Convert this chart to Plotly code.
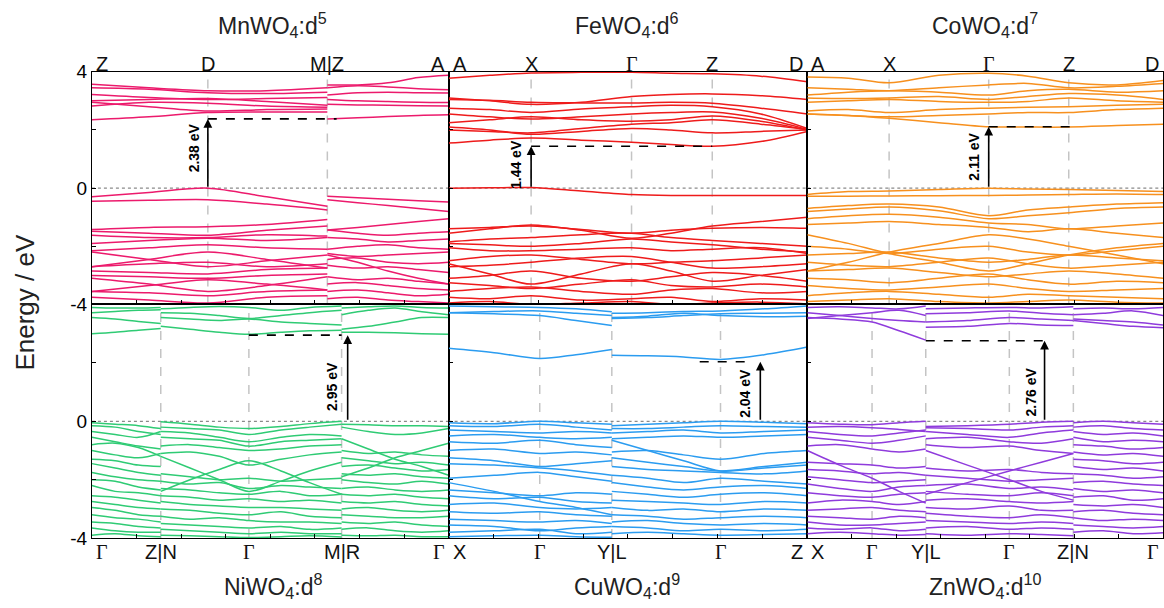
import plotly.graph_objects as go

# ---------------- data (eV) ----------------
# MnWO4 : Z-D-M | Z-A
MN_S1_X = [0, 0.16, 0.325, 0.49, 0.66]
MN_S1_CB = [
    [3.57, 3.45, 3.35, 3.35, 3.45], [3.45, 3.40, 3.28, 3.25, 3.30], [3.22, 3.12, 3.05, 3.08, 3.12],
    [3.00, 3.05, 3.08, 2.98, 2.85], [2.82, 2.95, 2.92, 2.82, 2.78], [2.95, 2.80, 2.65, 2.70, 2.72],
    [2.35, 2.45, 2.60, 2.62, 2.62]]
MN_S1_VB = [
    [-0.30, -0.15, 0.00, -0.30, -0.62], [-0.45, -0.42, -0.40, -0.55, -0.75], [-1.42, -1.35, -1.33, -1.25, -1.08],
    [-1.48, -1.55, -1.62, -1.45, -1.30], [-1.62, -1.70, -1.70, -1.60, -1.65], [-1.90, -1.80, -1.72, -1.80, -1.70],
    [-2.15, -2.05, -1.95, -2.05, -2.10], [-2.70, -2.45, -2.20, -2.45, -2.75], [-2.20, -2.45, -2.70, -2.50, -2.30],
    [-2.70, -2.60, -2.55, -2.70, -2.60], [-2.85, -2.90, -2.95, -2.80, -2.75], [-3.00, -3.05, -3.10, -3.00, -2.95],
    [-3.10, -3.30, -3.55, -3.35, -3.05], [-3.55, -3.35, -3.15, -3.30, -3.50], [-3.55, -3.60, -3.70, -3.55, -3.50],
    [-3.75, -3.85, -3.95, -3.75, -3.70]]
MN_S2_X = [0.66, 0.745, 0.83, 0.915, 1.0]
MN_S2_CB = [
    [3.55, 3.55, 3.62, 3.80, 3.88], [3.45, 3.52, 3.48, 3.42, 3.38], [3.20, 3.28, 3.30, 3.28, 3.27],
    [3.05, 3.00, 2.98, 2.95, 2.94], [2.88, 2.86, 2.85, 2.83, 2.82], [2.38, 2.42, 2.46, 2.50, 2.52]]
MN_S2_VB = [
    [-0.28, -0.33, -0.38, -0.43, -0.48], [-0.40, -0.50, -0.60, -0.70, -0.80], [-1.44, -1.35, -1.25, -1.15, -1.05],
    [-1.44, -1.55, -1.62, -1.55, -1.50], [-1.70, -1.75, -1.85, -1.80, -1.75], [-2.10, -2.00, -1.95, -2.05, -2.10],
    [-2.25, -2.35, -2.30, -2.25, -2.20], [-2.45, -2.40, -2.55, -2.60, -2.55], [-2.65, -2.75, -2.70, -2.80, -2.90],
    [-2.30, -2.55, -2.85, -3.10, -3.30], [-3.05, -3.15, -3.10, -3.20, -3.30], [-3.30, -3.25, -3.35, -3.45, -3.50],
    [-3.55, -3.50, -3.60, -3.70, -3.65], [-3.80, -3.75, -3.85, -3.90, -3.95]]

# FeWO4 : A-X-G-Z-D
FE_S1_X = [0, 0.115, 0.23, 0.37, 0.51, 0.62, 0.735, 0.87, 1.0]
FE_S1_CB = [
    [3.78, 3.88, 3.96, 3.98, 3.98, 3.95, 3.93, 3.85, 3.66],
    [3.10, 3.00, 2.88, 2.95, 3.15, 3.22, 3.24, 3.18, 3.05],
    [3.05, 3.02, 2.95, 2.93, 2.93, 2.95, 2.92, 2.75, 2.55],
    [2.75, 2.70, 2.60, 2.72, 2.80, 2.85, 2.80, 2.55, 2.05],
    [2.55, 2.45, 2.38, 2.45, 2.55, 2.60, 2.62, 2.40, 2.02],
    [2.25, 2.35, 2.45, 2.35, 2.30, 2.35, 2.48, 2.30, 2.00],
    [2.00, 1.95, 1.90, 2.05, 2.20, 2.25, 2.35, 2.20, 2.02],
    [2.10, 2.00, 1.85, 1.95, 2.05, 2.00, 1.90, 1.95, 2.00],
    [1.55, 1.65, 1.72, 1.65, 1.58, 1.50, 1.44, 1.60, 1.95]]
FE_S1_VB = [
    [0.00, 0.01, 0.02, -0.10, -0.22, -0.25, -0.25, -0.25, -0.25],
    [-1.55, -1.40, -1.27, -1.45, -1.72, -1.55, -1.30, -1.15, -1.00],
    [-1.40, -1.35, -1.30, -1.42, -1.55, -1.45, -1.38, -1.35, -1.38],
    [-1.85, -1.75, -1.70, -1.60, -1.55, -1.70, -1.80, -1.90, -2.00],
    [-1.90, -1.95, -2.00, -1.90, -1.75, -1.85, -1.95, -2.10, -2.20],
    [-2.05, -2.15, -2.15, -2.10, -2.05, -2.15, -2.10, -2.05, -2.25],
    [-2.50, -2.35, -2.30, -2.45, -2.60, -2.55, -2.50, -2.40, -2.30],
    [-2.70, -2.65, -2.55, -2.40, -2.35, -2.55, -2.75, -2.70, -2.60],
    [-2.60, -2.95, -3.30, -2.95, -2.60, -2.85, -3.20, -3.00, -2.80],
    [-3.10, -3.00, -2.85, -3.10, -3.20, -3.05, -2.90, -3.00, -3.20],
    [-3.25, -3.35, -3.45, -3.30, -3.15, -3.35, -3.40, -3.30, -3.40],
    [-3.55, -3.45, -3.40, -3.55, -3.65, -3.50, -3.45, -3.60, -3.55],
    [-3.75, -3.80, -3.70, -3.85, -3.80, -3.75, -3.90, -3.80, -3.85],
    [-3.95, -3.90, -4.00, -3.95, -3.90, -4.00, -3.95, -3.92, -3.98]]

# CoWO4 : A-X-G-Z-D
CO_S1_X = [0, 0.115, 0.23, 0.37, 0.51, 0.62, 0.735, 0.87, 1.0]
CO_S1_CB = [
    [3.82, 3.78, 3.62, 3.88, 3.95, 3.85, 3.62, 3.55, 3.70],
    [3.45, 3.40, 3.35, 3.45, 3.55, 3.60, 3.45, 3.50, 3.60],
    [3.20, 3.30, 3.35, 3.30, 3.20, 3.35, 3.40, 3.30, 3.35],
    [3.10, 3.08, 3.10, 3.15, 3.05, 3.15, 3.25, 3.20, 3.05],
    [2.95, 3.00, 3.05, 2.98, 2.95, 2.98, 3.10, 3.00, 2.95],
    [2.65, 2.70, 2.60, 2.70, 2.75, 2.78, 2.80, 2.85, 2.88],
    [2.55, 2.50, 2.45, 2.50, 2.55, 2.60, 2.60, 2.70, 2.75],
    [2.55, 2.50, 2.40, 2.25, 2.11, 2.10, 2.10, 2.15, 2.20]]
CO_S1_VB = [
    [-0.22, -0.12, -0.10, -0.05, 0.00, -0.03, -0.05, -0.08, -0.12],
    [-0.28, -0.28, -0.27, -0.26, -0.25, -0.24, -0.22, -0.20, -0.22],
    [-0.70, -0.60, -0.55, -0.65, -0.95, -0.75, -0.65, -0.55, -0.50],
    [-0.80, -0.72, -0.65, -0.78, -1.05, -0.95, -0.85, -0.70, -0.65],
    [-1.05, -0.95, -0.90, -1.00, -1.20, -1.25, -1.40, -1.30, -1.20],
    [-1.25, -1.20, -1.15, -1.25, -1.35, -1.50, -1.40, -1.55, -1.70],
    [-2.85, -2.55, -2.20, -1.90, -1.60, -1.75, -2.00, -2.30, -2.60],
    [-1.60, -1.90, -2.25, -2.55, -2.85, -2.60, -2.30, -2.05, -1.90],
    [-2.00, -2.10, -2.25, -2.10, -2.00, -2.20, -2.30, -2.15, -2.00],
    [-2.30, -2.25, -2.20, -2.40, -2.55, -2.45, -2.30, -2.40, -2.50],
    [-2.55, -2.65, -2.70, -2.55, -2.40, -2.60, -2.75, -2.65, -2.55],
    [-2.85, -2.80, -2.75, -2.90, -3.05, -2.95, -2.85, -2.95, -3.10],
    [-3.10, -3.15, -3.25, -3.10, -2.95, -3.15, -3.30, -3.20, -3.25],
    [-3.35, -3.45, -3.50, -3.40, -3.30, -3.45, -3.55, -3.50, -3.45],
    [-3.70, -3.60, -3.55, -3.65, -3.75, -3.65, -3.70, -3.75, -3.80],
    [-3.90, -3.85, -3.80, -3.90, -3.95, -3.90, -3.85, -3.92, -3.95]]

# NiWO4 : G-Z | N-G-M | R-G
NI_S1_X = [0, 0.065, 0.13, 0.193]
NI_S1_CB = [[3.90, 3.88, 3.88, 3.90], [3.72, 3.76, 3.80, 3.82], [3.55, 3.50, 3.42, 3.35], [3.00, 3.05, 3.12, 3.18]]
NI_S1_VB = [
    [-0.05, -0.10, -0.15, -0.25], [-0.15, -0.20, -0.35, -0.45], [-0.35, -0.45, -0.55, -0.35], [-0.55, -0.70, -0.85, -0.95],
    [-0.80, -0.75, -0.90, -1.20], [-1.00, -1.15, -1.25, -1.10], [-1.30, -1.35, -1.50, -1.55], [-1.45, -1.60, -1.75, -1.85],
    [-1.75, -1.90, -2.00, -2.05], [-2.00, -2.05, -2.25, -2.35], [-2.20, -2.40, -2.45, -2.55], [-2.55, -2.60, -2.70, -2.80],
    [-2.75, -2.85, -2.95, -3.00], [-2.95, -3.05, -3.20, -3.25], [-3.20, -3.30, -3.35, -3.45], [-3.45, -3.50, -3.60, -3.65],
    [-3.65, -3.75, -3.80, -3.80], [-3.90, -3.85, -3.92, -3.95]]
NI_S2_X = [0.193, 0.275, 0.357, 0.44, 0.53, 0.61, 0.70]
NI_S2_CB = [
    [3.85, 3.90, 3.93, 3.90, 3.80, 3.90, 3.95], [3.72, 3.70, 3.62, 3.52, 3.62, 3.72, 3.80],
    [3.55, 3.50, 3.45, 3.50, 3.40, 3.35, 3.30], [3.25, 3.15, 3.05, 2.98, 3.05, 3.10, 3.12]]
NI_S2_VB = [
    [-0.02, -0.10, -0.20, -0.25, -0.18, -0.08, 0.00], [-0.20, -0.25, -0.30, -0.45, -0.30, -0.20, -0.10],
    [-0.35, -0.40, -0.55, -0.70, -0.55, -0.45, -0.50], [-0.55, -0.60, -0.65, -0.85, -0.70, -0.65, -0.60],
    [-0.85, -0.80, -0.90, -1.00, -0.95, -0.85, -0.80], [-1.10, -1.05, -1.20, -1.50, -1.30, -1.15, -1.05],
    [-1.20, -1.60, -2.00, -2.40, -2.05, -1.70, -1.40], [-2.40, -2.00, -1.65, -1.35, -1.70, -2.10, -2.50],
    [-1.80, -1.90, -2.00, -1.95, -2.05, -2.00, -1.95], [-2.05, -2.15, -2.10, -2.30, -2.20, -2.25, -2.30],
    [-2.30, -2.35, -2.45, -2.50, -2.40, -2.55, -2.50], [-2.55, -2.60, -2.70, -2.65, -2.75, -2.70, -2.80],
    [-2.75, -2.85, -2.90, -2.95, -2.95, -3.00, -3.05], [-3.00, -3.05, -3.15, -3.20, -3.10, -3.25, -3.30],
    [-3.25, -3.35, -3.30, -3.40, -3.45, -3.45, -3.50], [-3.50, -3.55, -3.60, -3.65, -3.60, -3.70, -3.65],
    [-3.70, -3.75, -3.80, -3.85, -3.80, -3.85, -3.85], [-3.90, -3.92, -3.95, -3.98, -3.95, -3.92, -3.96]]
NI_S3_X = [0.70, 0.775, 0.85, 0.925, 1.0]
NI_S3_CB = [[3.88, 3.92, 3.95, 3.90, 3.88], [3.65, 3.80, 3.88, 3.75, 3.65], [3.15, 3.25, 3.40, 3.55, 3.55], [3.05, 3.05, 3.03, 3.00, 2.98]]
NI_S3_VB = [
    [-0.10, -0.12, -0.15, -0.15, -0.18], [-0.20, -0.35, -0.45, -0.40, -0.25], [-0.60, -0.95, -1.30, -1.55, -1.85],
    [-1.90, -1.60, -1.25, -1.00, -0.75], [-1.00, -1.10, -1.05, -1.15, -1.20], [-1.25, -1.35, -1.45, -1.40, -1.50],
    [-1.55, -1.50, -1.60, -1.70, -1.65], [-1.80, -1.85, -1.80, -1.90, -1.95], [-2.00, -2.10, -2.15, -2.05, -2.15],
    [-2.30, -2.25, -2.35, -2.40, -2.35], [-2.50, -2.55, -2.50, -2.60, -2.65], [-2.75, -2.80, -2.75, -2.85, -2.90],
    [-3.00, -2.95, -3.05, -3.10, -3.05], [-3.20, -3.25, -3.30, -3.30, -3.25], [-3.45, -3.50, -3.45, -3.55, -3.60],
    [-3.70, -3.65, -3.75, -3.80, -3.75], [-3.90, -3.92, -3.90, -3.95, -3.95]]

# CuWO4 : X-G-Y | L-G-Z
CU_S1_X = [0, 0.127, 0.254, 0.355, 0.455]
CU_S1_CB = [[3.95, 3.92, 3.90, 3.85, 3.75], [3.72, 3.76, 3.78, 3.70, 3.62], [3.72, 3.68, 3.62, 3.45, 3.28], [2.50, 2.35, 2.15, 2.28, 2.46]]
CU_S1_VB = [
    [-0.05, -0.08, 0.00, -0.05, -0.10], [-0.15, -0.18, -0.10, -0.20, -0.30], [-0.30, -0.35, -0.40, -0.35, -0.40],
    [-0.50, -0.45, -0.55, -0.60, -0.55], [-0.70, -0.75, -0.65, -0.80, -0.90], [-1.00, -0.95, -1.10, -1.05, -1.15],
    [-1.25, -1.35, -1.55, -1.45, -1.35], [-1.45, -1.50, -1.60, -1.70, -1.85], [-1.95, -1.85, -1.75, -1.90, -2.05],
    [-2.10, -2.40, -2.75, -2.95, -3.20], [-2.35, -2.45, -2.55, -2.45, -2.50], [-2.55, -2.65, -2.60, -2.75, -2.80],
    [-2.85, -2.80, -2.95, -3.00, -2.95], [-3.10, -3.15, -3.10, -3.20, -3.25], [-3.35, -3.40, -3.45, -3.40, -3.50],
    [-3.55, -3.60, -3.75, -3.65, -3.60], [-3.80, -3.75, -3.70, -3.85, -3.80], [-3.95, -3.92, -3.90, -3.95, -3.97]]
CU_S2_X = [0.455, 0.555, 0.655, 0.758, 0.88, 1.0]
CU_S2_CB = [[3.70, 3.72, 3.76, 3.78, 3.85, 3.95], [3.52, 3.55, 3.62, 3.68, 3.70, 3.72], [3.55, 3.60, 3.70, 3.62, 3.58, 3.60],
            [2.26, 2.24, 2.20, 2.12, 2.28, 2.54]]
CU_S2_VB = [
    [-0.15, -0.10, -0.05, 0.00, -0.03, -0.08], [-0.25, -0.25, -0.20, -0.15, -0.18, -0.20], [-0.40, -0.35, -0.30, -0.40, -0.35, -0.30],
    [-0.60, -0.55, -0.50, -0.55, -0.50, -0.45], [-0.65, -1.00, -1.35, -1.70, -1.60, -1.50], [-1.05, -1.00, -1.15, -1.30, -1.10, -1.00],
    [-1.25, -1.40, -1.55, -1.70, -1.55, -1.40], [-1.55, -1.65, -1.70, -1.75, -1.80, -1.70], [-1.85, -1.95, -2.10, -1.95, -2.05, -2.15],
    [-2.10, -2.25, -2.35, -2.25, -2.20, -2.30], [-2.40, -2.50, -2.60, -2.50, -2.45, -2.55], [-2.70, -2.75, -2.80, -2.85, -2.75, -2.80],
    [-2.95, -3.05, -3.00, -3.10, -3.00, -3.05], [-3.20, -3.25, -3.35, -3.30, -3.25, -3.30], [-3.45, -3.40, -3.50, -3.55, -3.50, -3.55],
    [-3.60, -3.65, -3.75, -3.70, -3.75, -3.70], [-3.85, -3.80, -3.85, -3.90, -3.88, -3.85]]

# ZnWO4 : X-G-Y | L-G-Z | N-G
ZN_S1_X = [0, 0.091, 0.182, 0.258, 0.333]
ZN_S1_CB = [[3.90, 3.92, 3.88, 3.85, 3.95], [3.52, 3.62, 3.72, 3.80, 3.62], [3.72, 3.62, 3.52, 3.45, 3.40], [3.55, 3.50, 3.40, 3.10, 2.78]]
ZN_S1_VB = [
    [-0.05, -0.10, -0.12, -0.05, 0.00], [-0.20, -0.18, -0.22, -0.28, -0.35], [-0.35, -0.45, -0.50, -0.40, -0.30],
    [-0.55, -0.65, -0.75, -0.65, -0.50], [-0.85, -0.80, -0.95, -1.05, -0.95], [-1.00, -1.50, -1.95, -2.40, -2.80],
    [-1.40, -1.45, -1.50, -1.60, -1.55], [-1.65, -1.70, -1.80, -1.75, -1.85], [-1.90, -2.00, -2.10, -2.05, -2.00],
    [-2.15, -2.30, -2.40, -2.25, -2.20], [-2.45, -2.55, -2.60, -2.50, -2.45], [-2.80, -2.70, -2.75, -2.85, -2.75],
    [-3.05, -3.00, -2.95, -3.05, -3.10], [-3.25, -3.30, -3.35, -3.25, -3.30], [-3.45, -3.55, -3.55, -3.50, -3.45],
    [-3.65, -3.70, -3.65, -3.75, -3.70], [-3.85, -3.80, -3.85, -3.90, -3.88]]
ZN_S2_X = [0.333, 0.45, 0.568, 0.658, 0.748]
ZN_S2_CB = [[3.85, 3.88, 3.90, 3.88, 3.92], [3.68, 3.72, 3.78, 3.70, 3.65], [3.40, 3.45, 3.55, 3.50, 3.45], [3.22, 3.25, 3.35, 3.30, 3.28]]
ZN_S2_VB = [
    [-0.18, -0.15, -0.10, -0.03, 0.00], [-0.22, -0.25, -0.30, -0.20, -0.15], [-0.35, -0.45, -0.55, -0.40, -0.30],
    [-0.60, -0.55, -0.70, -0.75, -0.60], [-0.80, -0.90, -0.85, -1.00, -1.10], [-1.00, -1.50, -2.00, -2.40, -2.70],
    [-2.50, -2.10, -1.70, -1.40, -1.10], [-1.60, -1.70, -1.65, -1.75, -1.80], [-1.85, -1.95, -2.05, -2.00, -1.95],
    [-2.20, -2.15, -2.30, -2.25, -2.35], [-2.40, -2.50, -2.55, -2.45, -2.55], [-2.70, -2.65, -2.75, -2.80, -2.75],
    [-2.95, -3.00, -2.90, -3.05, -3.05], [-3.15, -3.25, -3.30, -3.20, -3.30], [-3.40, -3.45, -3.50, -3.45, -3.50],
    [-3.65, -3.60, -3.70, -3.65, -3.70], [-3.85, -3.90, -3.85, -3.88, -3.92]]
ZN_S3_X = [0.748, 0.832, 0.916, 1.0]
ZN_S3_CB = [[3.85, 3.88, 3.85, 3.90], [3.65, 3.70, 3.78, 3.62], [3.50, 3.45, 3.40, 3.30], [3.45, 3.35, 3.25, 3.20]]
ZN_S3_VB = [
    [-0.05, 0.00, -0.05, -0.10], [-0.20, -0.15, -0.25, -0.30], [-0.35, -0.45, -0.40, -0.50], [-0.55, -0.70, -0.65, -0.70],
    [-0.80, -0.85, -0.95, -0.90], [-1.05, -1.15, -1.10, -1.20], [-1.30, -1.35, -1.45, -1.40], [-1.55, -1.65, -1.60, -1.70],
    [-1.80, -1.85, -1.95, -1.90], [-2.10, -2.05, -2.15, -2.20], [-2.30, -2.40, -2.35, -2.45], [-2.60, -2.55, -2.70, -2.65],
    [-2.85, -2.90, -2.85, -2.95], [-3.10, -3.05, -3.15, -3.20], [-3.30, -3.40, -3.35, -3.40], [-3.55, -3.60, -3.65, -3.60],
    [-3.80, -3.75, -3.85, -3.82]]

# high-symmetry point positions (fraction of path) and labels
MN_KPOS = [0, 0.325, 0.66, 1.0]
MN_KLAB = ["Z", "D", "M|Z", "A"]
FE_KPOS = [0, 0.23, 0.51, 0.735, 1.0]
FE_KLAB = ["A", "X", "Γ", "Z", "D"]
CO_KPOS = [0, 0.23, 0.51, 0.735, 1.0]
CO_KLAB = ["A", "X", "Γ", "Z", "D"]
NI_KPOS = [0, 0.193, 0.44, 0.70, 1.0]
NI_KLAB = ["Γ", "Z|N", "Γ", "M|R", "Γ"]
CU_KPOS = [0, 0.254, 0.455, 0.758, 1.0]
CU_KLAB = ["X", "Γ", "Y|L", "Γ", "Z"]
ZN_KPOS = [0, 0.182, 0.333, 0.568, 0.748, 1.0]
ZN_KLAB = ["X", "Γ", "Y|L", "Γ", "Z|N", "Γ"]

TITLES = ["MnWO<sub>4</sub>:d<sup>5</sup>", "FeWO<sub>4</sub>:d<sup>6</sup>", "CoWO<sub>4</sub>:d<sup>7</sup>",
          "NiWO<sub>4</sub>:d<sup>8</sup>", "CuWO<sub>4</sub>:d<sup>9</sup>", "ZnWO<sub>4</sub>:d<sup>10</sup>"]
GAPS = [2.38, 1.44, 2.11, 2.95, 2.04, 2.76]
COLORS = ["#ec1a6c", "#ee1b1b", "#f7901e", "#2fcb74", "#2b9cf0", "#8f3bdc"]

# ---------------- layout geometry ----------------
W, H = 1164, 608
XDOM = [(92 / W, 449 / W), (449 / W, 808 / W), (808 / W, 1.0)]
YTOP = (1 - 305 / H, 1 - 64 / H)
YBOT = (1 - 547 / H, 1 - 305 / H)

panels = [
    dict(segs=[(MN_S1_X, MN_S1_CB + MN_S1_VB), (MN_S2_X, MN_S2_CB + MN_S2_VB)], kpos=MN_KPOS, klab=MN_KLAB,
         xd=XDOM[0], yd=YTOP, top=True,
         arrow_x=0.325, dash=(0.325, 0.686), lab=(0.286, 1.40)),
    dict(segs=[(FE_S1_X, FE_S1_CB + FE_S1_VB)], kpos=FE_KPOS, klab=FE_KLAB, xd=XDOM[1], yd=YTOP, top=True,
         arrow_x=0.23, dash=(0.23, 0.735), lab=(0.19, 0.82)),
    dict(segs=[(CO_S1_X, CO_S1_CB + CO_S1_VB)], kpos=CO_KPOS, klab=CO_KLAB, xd=XDOM[2], yd=YTOP, top=True,
         arrow_x=0.51, dash=(0.51, 0.756), lab=(0.47, 1.10)),
    dict(segs=[(NI_S1_X, NI_S1_CB + NI_S1_VB), (NI_S2_X, NI_S2_CB + NI_S2_VB), (NI_S3_X, NI_S3_CB + NI_S3_VB)],
         kpos=NI_KPOS, klab=NI_KLAB, xd=XDOM[0], yd=YBOT, top=False,
         arrow_x=0.717, dash=(0.44, 0.70), lab=(0.675, 1.2)),
    dict(segs=[(CU_S1_X, CU_S1_CB + CU_S1_VB), (CU_S2_X, CU_S2_CB + CU_S2_VB)], kpos=CU_KPOS, klab=CU_KLAB,
         xd=XDOM[1], yd=YBOT, top=False,
         arrow_x=0.869, dash=(0.70, 0.845), lab=(0.828, 0.96)),
    dict(segs=[(ZN_S1_X, ZN_S1_CB + ZN_S1_VB), (ZN_S2_X, ZN_S2_CB + ZN_S2_VB), (ZN_S3_X, ZN_S3_CB + ZN_S3_VB)],
         kpos=ZN_KPOS, klab=ZN_KLAB, xd=XDOM[2], yd=YBOT, top=False,
         arrow_x=0.667, dash=(0.333, 0.667), lab=(0.63, 1.0)),
]

fig = go.Figure()
shapes, annos = [], []
FONT = "Liberation Sans, Arial, sans-serif"

for i, p in enumerate(panels):
    n = i + 1
    xa, ya = f"x{n}" if n > 1 else "x", f"y{n}" if n > 1 else "y"
    col = COLORS[i]
    for xs, bands in p["segs"]:
        X, Y = [], []
        for b in bands:
            X += list(xs) + [None]
            Y += list(b) + [None]
        fig.add_trace(go.Scatter(x=X, y=Y, mode="lines", xaxis=xa, yaxis=ya, showlegend=False,
                                 hoverinfo="skip", connectgaps=False,
                                 line=dict(color=col, width=1.5, shape="spline", smoothing=0.9)))
    xkey = "xaxis" if n == 1 else f"xaxis{n}"
    ykey = "yaxis" if n == 1 else f"yaxis{n}"
    left = (i % 3 == 0)
    if left and p["top"]:
        ttext = ["4", "", "0", "", "-4"]
    elif left:
        ttext = ["", "", "0", "", "-4"]
    else:
        ttext = [""] * 5
    fig.update_layout(**{
        xkey: dict(domain=list(p["xd"]), range=[0, 1], showgrid=False, zeroline=False, showticklabels=False,
                   showline=True, linecolor="black", linewidth=1.1, mirror=True,
                   ticks="inside", ticklen=4, tickcolor="black",
                   tickvals=[0.125, 0.25, 0.375, 0.5, 0.625, 0.75, 0.875],
                   anchor=ya, fixedrange=True),
        ykey: dict(domain=list(p["yd"]), range=[-4, 4], showgrid=False, zeroline=False,
                   showline=True, linecolor="black", linewidth=1.1, mirror=True,
                   ticks="inside", ticklen=4, tickcolor="black",
                   tickvals=[4, 2, 0, -2, -4], ticktext=ttext, showticklabels=left,
                   tickfont=dict(family=FONT, size=19, color="black"),
                   anchor=xa, fixedrange=True),
    })
    for kx in p["kpos"][1:-1]:
        shapes.append(dict(type="line", xref=xa, yref=ya, x0=kx, x1=kx, y0=-4, y1=4,
                           line=dict(color="#c4c4c4", width=1.5, dash="dash"), layer="below"))
    shapes.append(dict(type="line", xref=xa, yref=ya, x0=0, x1=1, y0=0, y1=0,
                       line=dict(color="#8a8a8a", width=1.3, dash="dot"), layer="below"))
    g = GAPS[i]
    shapes.append(dict(type="line", xref=xa, yref=ya, x0=p["dash"][0], x1=p["dash"][1], y0=g, y1=g,
                       line=dict(color="black", width=1.6, dash="dash")))
    annos.append(dict(x=p["arrow_x"], y=g, ax=p["arrow_x"], ay=0, xref=xa, yref=ya, axref=xa, ayref=ya,
                      showarrow=True, arrowhead=2, arrowsize=1.1, arrowwidth=1.6, arrowcolor="black", text=""))
    annos.append(dict(x=p["lab"][0], y=p["lab"][1], xref=xa, yref=ya, showarrow=False, textangle=-90,
                      text=f"<b>{g:.2f} eV</b>", font=dict(family=FONT, size=14, color="black")))
    x0p, x1p = p["xd"]
    ylab = 1 - 56 / H if p["top"] else 1 - 561 / H
    nk = len(p["kpos"])
    for j, (kx, kl) in enumerate(zip(p["kpos"], p["klab"])):
        px = x0p + kx * (x1p - x0p)
        if j == 0:
            anchor, shift = "left", 2
        elif j == nk - 1:
            anchor, shift = "right", -2
        else:
            anchor, shift = "center", 0
        fam = "Liberation Serif, Times New Roman, serif" if kl == "Γ" else FONT
        annos.append(dict(x=px, y=ylab, xref="paper", yref="paper", showarrow=False, text=kl,
                          xanchor=anchor, xshift=shift, yanchor="middle",
                          font=dict(family=fam, size=20, color="#111")))
    tx = [273, 628, 986][i % 3] / W
    ty = 1 - 16 / H if p["top"] else 1 - 597 / H
    annos.append(dict(x=tx, y=ty, xref="paper", yref="paper", showarrow=False, text=TITLES[i],
                      xanchor="center", yanchor="middle", font=dict(family=FONT, size=23, color="#222")))

annos.append(dict(x=25 / W, y=1 - 302 / H, xref="paper", yref="paper", showarrow=False, text="Energy / eV",
                  textangle=-90, xanchor="center", yanchor="middle", font=dict(family=FONT, size=26, color="#222")))

fig.update_layout(width=W, height=H, margin=dict(l=0, r=0, t=0, b=0), paper_bgcolor="white",
                  plot_bgcolor="white", shapes=shapes, annotations=annos, showlegend=False)

fig.write_html("out.html")
